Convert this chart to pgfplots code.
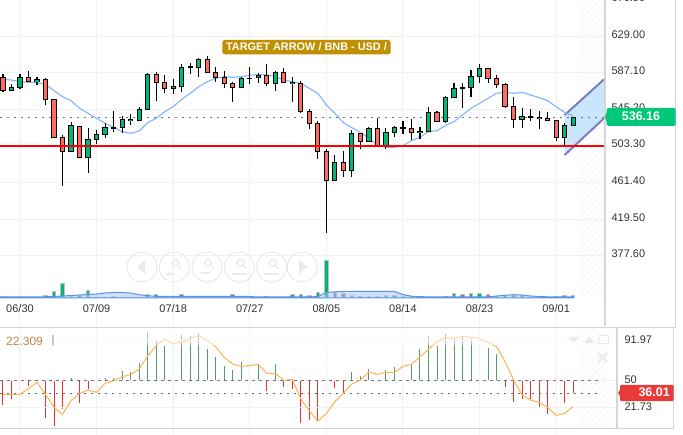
\documentclass[border=0pt]{standalone}
\usepackage{pgfplots}
\pgfplotsset{compat=1.18}
\usepackage{pgfplotstable}
\usepackage{fontspec}
\setmainfont{Liberation Sans}
\usetikzlibrary{patterns.meta}
\definecolor{cgreen}{HTML}{00B874}
\definecolor{cred}{HTML}{FF6B61}
\definecolor{gridc}{HTML}{F1F1F1}
\definecolor{rule}{HTML}{D6D6D6}
\definecolor{txt}{HTML}{333333}
\definecolor{mablue}{HTML}{7FB3FF}
\definecolor{chan}{HTML}{C9E6FC}
\definecolor{chanl}{HTML}{7B7DBD}
\definecolor{gold}{HTML}{BF9000}
\definecolor{tagg}{HTML}{00C878}
\definecolor{tagr}{HTML}{E93A3A}
\definecolor{hgreen}{HTML}{519C70}
\definecolor{hred}{HTML}{E5302F}
\definecolor{orng}{HTML}{FFB24F}
\definecolor{btn}{HTML}{EAEAEA}
\definecolor{volline}{HTML}{5B93E8}
\definecolor{volfill}{HTML}{A8C8F5}

\pgfplotstableread{
i top bot hi lo
-1 570.4 566.6 573.9 565.9
0 581.9 570.4 585.3 568.2
2 579.6 576.9 581.9 573.1
6 526.9 497.2 530.4 496.0
8 510.9 490.3 523.5 472.0
9 516.6 510.9 521.2 505.6
10 524.6 516.6 529.2 512.1
11 524.6 524.3 543.0 519.7
12 533.8 524.6 537.2 517.8
13 533.8 532.3 539.5 527.7
14 545.3 532.7 547.5 531.5
15 585.3 545.3 586.5 544.1
18 571.6 569.3 579.6 562.4
19 593.4 571.6 597.6 565.5
20 594.1 593.4 598.7 585.7
21 602.5 593.4 603.7 582.7
26 580.8 570.4 581.9 570.1
27 580.8 580.4 593.4 573.9
28 584.2 581.9 586.5 575.0
30 587.6 575.0 588.8 566.6
32 576.2 575.0 582.7 554.0
37 484.6 464.0 492.6 464.0
39 517.8 475.4 521.2 468.2
41 523.5 508.2 524.6 507.5
43 518.9 504.0 523.5 500.2
44 524.6 518.9 525.8 514.0
45 524.6 523.5 531.5 516.6
47 520.1 518.9 524.6 510.9
48 541.8 519.7 547.5 518.9
50 559.0 531.5 560.1 529.2
51 569.3 559.0 575.0 559.0
52 570.4 569.3 575.0 546.4
53 583.0 570.4 589.9 559.8
54 592.2 583.0 596.8 575.0
59 537.2 533.8 546.4 523.5
60 537.2 536.1 545.3 531.5
61 536.1 534.9 543.0 522.4
64 526.9 513.2 529.2 502.5
65 536.1 526.9 536.1 525.8
}\greentab

\pgfplotstableread{
i top bot hi lo
-2 581.9 566.6 585.3 565.5
1 581.9 576.9 588.8 576.6
3 579.6 556.7 580.8 550.2
4 556.7 512.8 556.7 512.1
5 512.8 497.2 515.5 457.1
7 525.8 489.9 525.8 489.1
16 585.3 576.2 587.6 555.2
17 576.2 569.3 584.2 564.3
22 602.5 587.6 605.9 587.6
23 587.6 581.9 593.4 576.9
24 581.9 575.0 588.8 570.1
25 575.0 570.4 576.2 554.0
29 584.2 575.0 596.8 572.4
31 587.6 576.2 592.2 575.0
33 575.0 543.0 577.3 540.7
34 543.0 529.2 545.3 522.4
35 529.2 497.2 531.5 488.0
36 497.2 464.0 500.2 404.0
38 484.6 475.4 497.2 468.2
40 517.8 508.2 517.8 499.5
42 523.5 504.0 534.9 504.0
46 523.5 518.9 533.8 509.8
49 541.8 531.5 543.0 531.5
55 592.2 580.8 592.2 575.0
56 580.8 573.9 584.2 569.3
57 573.9 548.7 575.0 546.4
58 548.7 533.8 559.0 523.5
62 534.9 532.7 541.8 531.5
63 532.7 513.2 532.7 508.6
}\redtab

\pgfplotstableread{
i v
-2.35 579.9
-2 579.6
-1 578.8
0 576.9
1 576.2
2 575.8
3 573.9
4 566.6
5 559.8
6 555.2
7 546.4
8 540.7
9 534.9
10 529.2
11 524.6
12 519.7
13 517.8
14 520.4
15 530.0
16 534.9
17 542.6
18 548.3
19 556.7
20 563.6
21 571.2
22 576.9
23 580.8
24 582.7
25 581.9
26 582.7
27 584.2
28 585.3
29 584.6
30 582.7
31 578.8
32 576.9
33 575.0
34 569.3
35 563.6
36 550.2
37 540.7
38 530.0
39 524.3
40 518.9
41 512.1
42 504.4
43 501.7
44 501.7
45 503.7
46 509.4
47 513.2
48 519.7
49 520.8
50 526.9
51 531.1
52 538.8
53 546.4
54 552.1
55 557.9
56 563.6
57 564.7
58 563.6
59 564.7
60 561.7
61 558.6
62 555.2
63 548.3
64 541.8
65 537.6
}\matab

\pgfplotstableread{
i h
-2 1.7
-1 0.7
0 0.7
1 0.7
3 2.7
4 6.7
5 14.3
7 2.3
8 7.7
10 0.7
11 1.7
15 3.3
16 3.3
19 3.3
21 1
23 1
25 3.0
27 0.7
28 0.7
32 3
33 3
35 5.5
36 37
42 1.7
43 2.7
46 1
48 0.7
50 1.7
51 4.3
53 4.3
54 4.7
57 2
58 2.3
61 0.7
63 1.3
65 2.3
}\volg

\pgfplotstableread{
i h
6 1.5
9 0.7
12 0.7
13 0.7
17 0.7
18 0.7
20 0.7
22 0.7
24 1
26 0.7
29 1.8
30 0.7
31 0.7
34 2
37 5.8
38 4
39 2.7
40 1
41 1
44 2.7
45 1.7
47 0.7
49 0.7
52 3.3
55 3.3
56 1.3
59 2.3
60 0.7
62 0.5
64 2.3
}\volr

\pgfplotstableread{
i h
-2.35 1
2 1
3 1.2
4 1.5
5 2
6 2.5
7 3
8 3.5
9 4
10 5
11 5.5
12 5.5
13 5
14 3.3
15 2.2
16 1.7
17 1.5
27 1.5
28 1
34 1
35 1.5
36 5.5
37 6.2
38 6.5
44 6.5
45 3.5
46 1.8
47 1.3
48 1.2
55 1.2
56 2
57 2.8
58 3.3
59 3
60 2
61 1.5
62 1.2
65 1.2
}\volma

\pgfplotstableread{
i v
-2 35.3
-1 35.3
0 35.3
1 41.6
2 47.8
3 35.3
4 21.7
5 14.3
6 28.7
7 36.3
8 39.8
9 37.4
10 46.8
11 49.6
12 53.8
13 55.9
14 61.8
15 75.4
16 86.2
17 93.2
18 88.0
19 90.4
20 93.6
21 97.1
22 91.5
23 85.2
24 74.0
25 67.0
26 64.6
27 65.6
28 66.7
29 57.3
30 57.3
31 49.9
32 51.0
33 30.4
34 18.2
35 7.0
36 15.4
37 27.6
38 36.3
39 46.1
40 50.3
41 58.7
42 56.2
43 58.3
44 58.3
45 64.6
46 66.7
47 74.7
48 82.4
49 90.4
50 95.0
51 93.9
52 96.0
53 95.0
54 93.9
55 89.7
56 85.2
57 69.5
58 50.3
59 34.6
60 29.3
61 26.9
62 21.7
63 13.3
64 15.4
65 22.7
}\osc

\pgfplotstableread{
i d
6 2.0
10 2.0
11 2.0
12 9.4
13 8.3
14 17.7
15 50.2
16 42.2
17 35.9
18 37.6
19 47.1
20 46.4
21 49.1
22 32.4
23 24.7
24 14.6
25 10.4
26 18.8
27 17.7
28 15.6
30 16.7
39 8.7
40 4.5
41 11.8
42 0.3
43 10.4
44 13.6
45 18.8
46 16.7
47 32.4
48 46.0
49 36.2
50 48.1
51 43.9
52 46.0
53 42.9
54 45.7
55 33.4
56 27.2
}\histg

\pgfplotstableread{
i d
-2 -25.5
-1 -20.0
1 -5.6
3 -39.8
4 -48.2
5 -30.1
7 -24.1
8 -8.8
9 -4.2
29 -10.9
31 -6.7
32 -8.8
33 -45.1
34 -41.6
35 -43.0
36 -18.9
37 -8.4
38 -13.7
57 -6.7
58 -23.1
59 -20.0
60 -20.0
61 -28.3
62 -35.7
63 -45.1
64 -24.1
65 -13.7
}\histr

\pgfplotsset{
  ebar/.style 2 args={no markers, draw=none, forget plot,
    error bars/.cd, y dir=both, y explicit, error mark=none,
    error bar style={solid, line width=#1, draw=#2}},
  wicks/.style={ebar={1.1pt}{black}},
  bodyo/.style={ebar={5.2pt}{black}},
}
\newcommand{\drawcandles}[2]{%
  \addplot[wicks] table[x=i, y expr={(\thisrow{hi}+\thisrow{lo})/2}, y error expr={(\thisrow{hi}-\thisrow{lo})/2}] {#1};
  \addplot[bodyo] table[x=i, y expr={(\thisrow{top}+\thisrow{bot})/2}, y error expr={abs(\thisrow{top}-\thisrow{bot})/2+0.55}] {#1};
  \addplot[ebar={3.2pt}{#2}] table[x=i, y expr={(\thisrow{top}+\thisrow{bot})/2}, y error expr={max(abs(\thisrow{top}-\thisrow{bot})/2-0.55,0)}] {#1};
}

\begin{document}
\begin{tikzpicture}[x=1pt,y=1pt]
\path[use as bounding box] (0,0) rectangle (683,434);
\fill[white] (0,0) rectangle (683,434);
% hatch zones
\fill[pattern={Lines[angle=45,distance=4.5pt,line width=1pt]}, pattern color=black!3] (579,136) rectangle (604,434);
\fill[pattern={Lines[angle=45,distance=4.5pt,line width=1pt]}, pattern color=black!3] (579,6) rectangle (609,106);

% price pane
\begin{axis}[at={(0pt,108pt)}, anchor=south west, scale only axis,
  width=604pt, height=327pt,
  xmin=-2.35, xmax=68.625, ymin=297.2, ymax=671.6,
  axis line style={draw=none}, major tick length=0pt,
  grid=major, major grid style={gridc, line width=1pt},
  xtick={0,9,...,63},
  xticklabels={06/30,07/09,07/18,07/27,08/05,08/14,08/23,09/01},
  xticklabel style={font=\fontsize{11}{13}\selectfont, text=txt, anchor=center, yshift=17pt},
  ytick={377.6,419.5,461.4,503.3,545.2,587.1,629.0,670.9},
  yticklabel pos=right,
  yticklabel style={font=\fontsize{11}{13}\selectfont, text=txt, anchor=west, xshift=4pt, yshift=1.8pt,
    /pgf/number format/.cd, fixed, fixed zerofill, precision=2, assume math mode=true},
  ]
  \addplot[fill=chan, draw=none, forget plot] coordinates {(64,538.8)(68.625,579.6)(68.625,534.9)(64,493)} -- cycle;
  \addplot[chanl, line width=2pt, forget plot] coordinates {(64,538.8)(68.625,579.6)};
  \addplot[chanl, line width=2pt, forget plot] coordinates {(64,493)(68.625,534.9)};
  \addplot[black!55, line width=1.2pt, dash pattern=on 1.6pt off 5.4pt, forget plot] coordinates {(-2.35,536.16)(68.625,536.16)};
  \addplot[mablue, line width=1.1pt, forget plot] table[x=i,y=v] {\matab};
  \drawcandles{\greentab}{cgreen}
  \drawcandles{\redtab}{cred}
  \addplot[red, line width=2pt, forget plot] coordinates {(-2.35,503.3)(68.625,503.3)};
\end{axis}

% nav buttons
\foreach \cx in {142,174.3,207,239.3,271.7,302.3} {
  \draw[btn, line width=1pt] (\cx,167) circle (15);
}
\fill[btn] (137,167) -- (145,174) -- (145,160) -- cycle;
\fill[btn] (307,167) -- (299,174) -- (299,160) -- cycle;
\foreach \cx in {174.3,207,239.3,271.7} {
  \draw[btn, line width=1.3pt] (\cx+1,171) circle (3.4);
  \draw[btn, line width=1.3pt] (\cx+3.5,168.5) -- (\cx+7,165);
}
\draw[btn, line width=1.8pt] (166,160) -- (173,160) (169.5,156.5) -- (169.5,163.5);
\draw[btn, line width=1.8pt] (201,161) -- (210,161);
\draw[btn, line width=1.2pt] (232,160) -- (247,160);
\draw[btn, line width=1.2pt] (264,160) -- (279,160);

% volume
\begin{axis}[at={(0pt,108pt)}, anchor=south west, scale only axis,
  width=604pt, height=327pt,
  xmin=-2.35, xmax=68.625, ymin=-28, ymax=299,
  hide axis, ybar, bar shift=0pt, bar width=3.6pt]
  \addplot[fill=cgreen, draw=black!25, line width=1pt, forget plot] table[x=i,y=h] {\volg};
  \addplot[fill=cred!60!black!80, draw=black!25, line width=1pt, forget plot] table[x=i,y=h] {\volr};
  \addplot[sharp plot, fill=volfill, fill opacity=0.55, draw=volline, line width=1pt, forget plot] table[x=i,y=h] {\volma} -- (axis cs:65,0) -- (axis cs:-2.35,0) -- cycle;
\end{axis}

% oscillator pane: histogram around the 50 level
\begin{axis}[at={(0pt,0pt)}, anchor=south west, scale only axis,
  width=617pt, height=106pt,
  xmin=-2.35, xmax=70.15, ymin=-56.2, ymax=54.8,
  hide axis]
  \addplot[ycomb, hgreen, line width=1pt, mark=none, forget plot] table[x=i,y=d] {\histg};
  \addplot[ycomb, hred, line width=1pt, mark=none, forget plot] table[x=i,y=d] {\histr};
\end{axis}

\begin{axis}[at={(0pt,0pt)}, anchor=south west, scale only axis,
  width=617pt, height=106pt,
  xmin=-2.35, xmax=70.15, ymin=-6.2, ymax=104.8,
  axis line style={draw=none}, major tick length=0pt,
  grid=major, major grid style={gridc, line width=1pt},
  xtick={0,9,...,63}, xticklabels={},
  ytick={21.73,50,91.97},
  yticklabels={21.73,50,91.97},
  yticklabel pos=right,
  yticklabel style={font=\fontsize{11}{13}\selectfont, text=txt, anchor=west, xshift=4pt, yshift=0.6pt},
  ]
  \addplot[black!55, line width=0.8pt, dash pattern=on 3pt off 4pt, forget plot] coordinates {(-2.35,50)(68.2,50)};
  \addplot[black!60, line width=1pt, dash pattern=on 1.5pt off 5.5pt, forget plot] coordinates {(-2.35,36.01)(68.2,36.01)};
  \addplot[orng, line width=1pt, forget plot] table[x=i,y=v] {\osc};
\end{axis}

% faded band at the top of the lower pane
\fill[white, opacity=0.5] (0,88.5) rectangle (616,106);

% rules
\fill[rule] (603.5,108) rectangle (605.5,434);
\fill[rule] (674.5,107) rectangle (675.8,434);
\fill[rule] (0,105.6) rectangle (675.8,107.4);
\fill[rule] (616.2,6) rectangle (618,106);
\fill[rule] (672.6,6) rectangle (673.8,106);
\fill[rule] (0,4.8) rectangle (673.8,6.4);

% icons
\fill[btn] (569,97) -- (579,97) -- (574,91) -- cycle;
\fill[btn] (584.5,91) -- (594,91) -- (589.3,97.5) -- cycle;
\draw[btn, line width=1pt] (598.5,90) rectangle (608,98.5);
\draw[btn, line width=2.4pt] (598.5,72) -- (607,81) (598.5,81) -- (607,72);

% texts and tags
\node[anchor=west, inner sep=0pt, text=orng!70!black!90, font=\fontsize{12}{14}\selectfont] at (6,93) {22.309};
\node[anchor=west, inner sep=0pt, text=black!50, font=\fontsize{11}{13}\selectfont] at (51.5,93) {|};
\fill[gold, rounded corners=2.5pt] (222.3,379.7) rectangle (390.7,394);
\node[text=white, inner sep=0pt, font=\fontsize{10.9}{12}\bfseries\selectfont] at (306.5,387) {TARGET ARROW / BNB - USD /};

\fill[tagg, rounded corners=1.5pt] (606.5,308) rectangle (675.5,326);
\fill[tagg] (607,322) -- (604.8,317) -- (607,312) -- cycle;
\node[text=white, inner sep=0pt, font=\fontsize{12.5}{14}\bfseries\selectfont] at (641,317.5) {536.16};

\fill[tagr, rounded corners=1pt] (620,33) rectangle (673.5,49);
\fill[tagr] (620.5,45) -- (618,41) -- (620.5,37) -- cycle;
\node[anchor=east, text=white, inner sep=0pt, font=\fontsize{12.5}{14}\bfseries\selectfont] at (670,41.5) {36.01};
\end{tikzpicture}
\end{document}
